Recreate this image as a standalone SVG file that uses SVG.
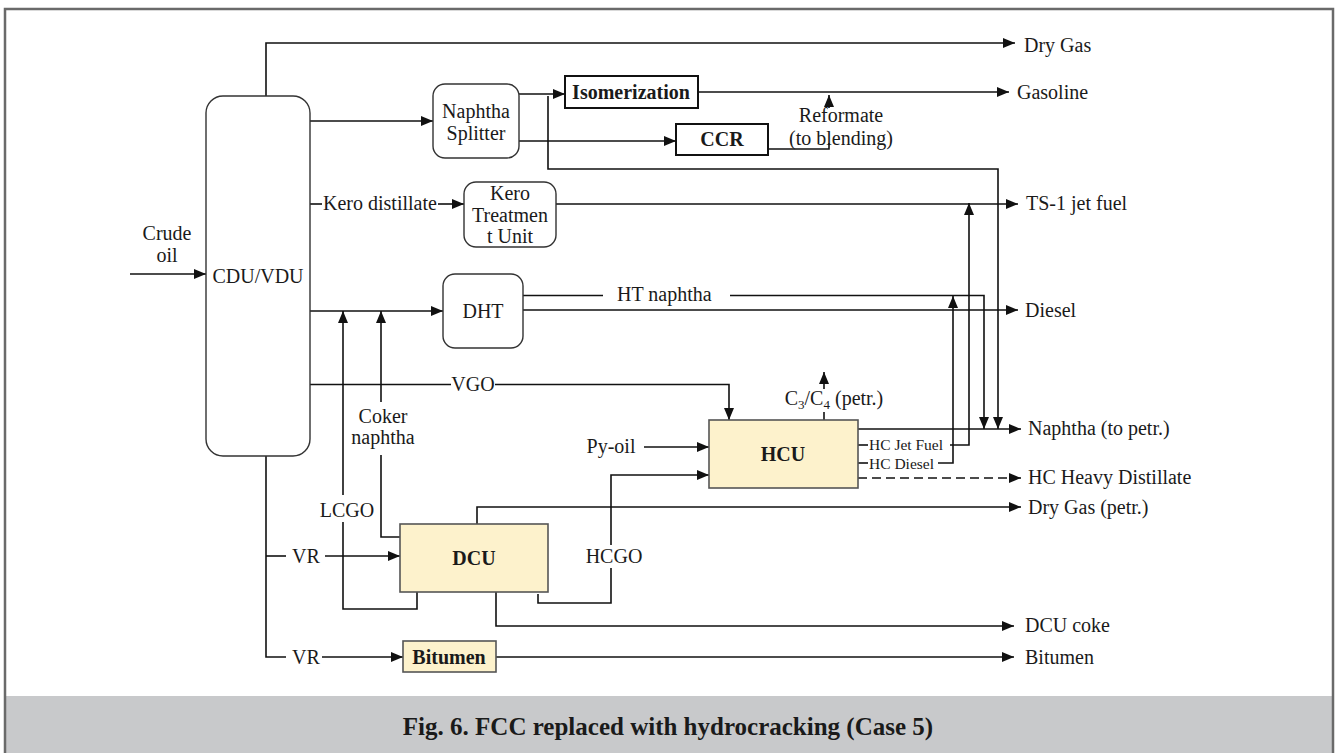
<svg xmlns="http://www.w3.org/2000/svg" width="1337" height="753" viewBox="0 0 1337 753">
<defs>
<marker id="ah" markerUnits="userSpaceOnUse" markerWidth="12" markerHeight="10" refX="12" refY="5" orient="auto">
<path d="M0,0 L12,5 L0,10 z" fill="#111"/>
</marker>
<style>
.t{font-family:"Liberation Serif","Times New Roman",serif;font-size:20px;fill:#1a1a1a}
.s{font-size:15.5px}
.b{font-weight:bold}
.m{text-anchor:middle}
.c{fill:none;stroke:#111;stroke-width:1.6}
.a{marker-end:url(#ah)}
.n{fill:#fff;stroke:#333;stroke-width:1.4}
.sq{fill:#fff;stroke:#111;stroke-width:2}
.y{fill:#fdf2cc;stroke:#555;stroke-width:1.6}
</style>
</defs>
<rect x="0" y="0" width="1337" height="753" fill="#fff"/>
<rect x="6" y="696" width="1326" height="60" fill="#c8c9cb"/>
<rect x="5" y="9" width="1328" height="760" fill="none" stroke="#6a6a6a" stroke-width="2.5"/>
<text class="t b m" x="668" y="735" style="font-size:25px">Fig. 6. FCC replaced with hydrocracking (Case 5)</text>

<g id="connectors">
<path class="c a" d="M130,274 H206"/>
<path class="c a" d="M266,96 V43 H1015"/>
<path class="c a" d="M310,121 H433"/>
<path class="c a" d="M519,94 H565"/>
<path class="c a" d="M548,96 V169 H998 V429"/>
<path class="c a" d="M519,141 H676"/>
<path class="c a" d="M698,92 H1009"/>
<path class="c" d="M768,149 H829 V143"/>
<path class="c a" d="M829,108 V95"/>
<path class="c" d="M310,204 H322"/>
<path class="c a" d="M438,204 H464"/>
<path class="c a" d="M556,204 H1018"/>
<path class="c a" d="M310,311 H443"/>
<path class="c a" d="M343,495 V311"/>
<path class="c" d="M343,522 V609 H417 V592"/>
<path class="c a" d="M381,402 V311"/>
<path class="c" d="M381,455 V537 H400"/>
<path class="c" d="M523,295.5 H603"/>
<path class="c a" d="M730,295.5 H984 V429"/>
<path class="c a" d="M523,310 H1018"/>
<path class="c" d="M310,384.5 H451"/>
<path class="c a" d="M495,384.5 H729 V420"/>
<path class="c a" d="M644,447 H709"/>
<path class="c" d="M538,594 V603 H611 V568"/>
<path class="c a" d="M611,545 V475 H709"/>
<path class="c a" d="M477,524 V507 H1021"/>
<path class="c a" d="M496,592 V626 H1014"/>
<path class="c" d="M266,456 V657 H286"/>
<path class="c a" d="M322,657 H403"/>
<path class="c" d="M266,556 H286"/>
<path class="c a" d="M325,556 H400"/>
<path class="c a" d="M496,657 H1014"/>
<path class="c" d="M824,420 V412"/>
<path class="c a" d="M824,389 V372"/>
<path class="c a" d="M858,429 H1021"/>
<path class="c a" d="M858,478 H1021" stroke-dasharray="9,5"/>
<path class="c" d="M858,445 H868"/>
<path class="c a" d="M950,445 H969 V203"/>
<path class="c" d="M858,463 H868"/>
<path class="c a" d="M938,463 H953 V296"/>
</g>

<g id="labels">
<text class="t m" x="167" y="240">Crude</text>
<text class="t m" x="167" y="262">oil</text>
<text class="t" x="323" y="210">Kero distillate</text>
<text class="t" x="617" y="301">HT naphtha</text>
<text class="t m" x="473" y="391">VGO</text>
<text class="t m" x="383" y="423">Coker</text>
<text class="t m" x="383" y="444">naphtha</text>
<text class="t m" x="347" y="517">LCGO</text>
<text class="t" x="292" y="563">VR</text>
<text class="t" x="292" y="664">VR</text>
<text class="t m" x="614" y="563">HCGO</text>
<text class="t m" x="611" y="453">Py-oil</text>
<text class="t m" x="841" y="122">Reformate</text>
<text class="t m" x="841" y="145">(to blending)</text>
<text class="t m" x="834" y="405">C<tspan font-size="13" dy="4">3</tspan><tspan dy="-4">/C</tspan><tspan font-size="13" dy="4">4</tspan><tspan dy="-4"> (petr.)</tspan></text>
<text class="t s" x="869" y="450">HC Jet Fuel</text>
<text class="t s" x="869" y="468.5">HC Diesel</text>
<text class="t" x="1024" y="52">Dry Gas</text>
<text class="t" x="1017" y="99">Gasoline</text>
<text class="t" x="1026" y="210">TS-1 jet fuel</text>
<text class="t" x="1025" y="317">Diesel</text>
<text class="t" x="1028" y="435">Naphtha (to petr.)</text>
<text class="t" x="1028" y="484">HC Heavy Distillate</text>
<text class="t" x="1028" y="514">Dry Gas (petr.)</text>
<text class="t" x="1025" y="632">DCU coke</text>
<text class="t" x="1025" y="664">Bitumen</text>
</g>

<g id="cdu"><rect class="n" x="206" y="96" width="104" height="360" rx="17"/><text class="t m" x="258" y="283">CDU/VDU</text></g>
<g id="splitter"><rect class="n" x="433" y="84" width="86" height="74" rx="12"/><text class="t m" x="476" y="118">Naphtha</text><text class="t m" x="476" y="140">Splitter</text></g>
<g id="isomerization"><rect class="sq" x="565" y="76" width="133" height="32"/><text class="t b m" x="631" y="99">Isomerization</text></g>
<g id="ccr"><rect class="sq" x="676" y="124" width="92" height="31"/><text class="t b m" x="722" y="146">CCR</text></g>
<g id="kero"><rect class="n" x="464" y="182" width="92" height="65" rx="12"/><text class="t m" x="510" y="200">Kero</text><text class="t m" x="510" y="222">Treatmen</text><text class="t m" x="510" y="243">t Unit</text></g>
<g id="dht"><rect class="n" x="443" y="274" width="80" height="74" rx="12"/><text class="t m" x="483" y="318">DHT</text></g>
<g id="dcu"><rect class="y" x="400" y="524" width="148" height="68"/><text class="t b m" x="474" y="565">DCU</text></g>
<g id="hcu"><rect class="y" x="709" y="420" width="149" height="68"/><text class="t b m" x="783" y="461">HCU</text></g>
<g id="bitumen"><rect class="y" x="403" y="641" width="93" height="31"/><text class="t b m" x="449" y="664">Bitumen</text></g>
</svg>
